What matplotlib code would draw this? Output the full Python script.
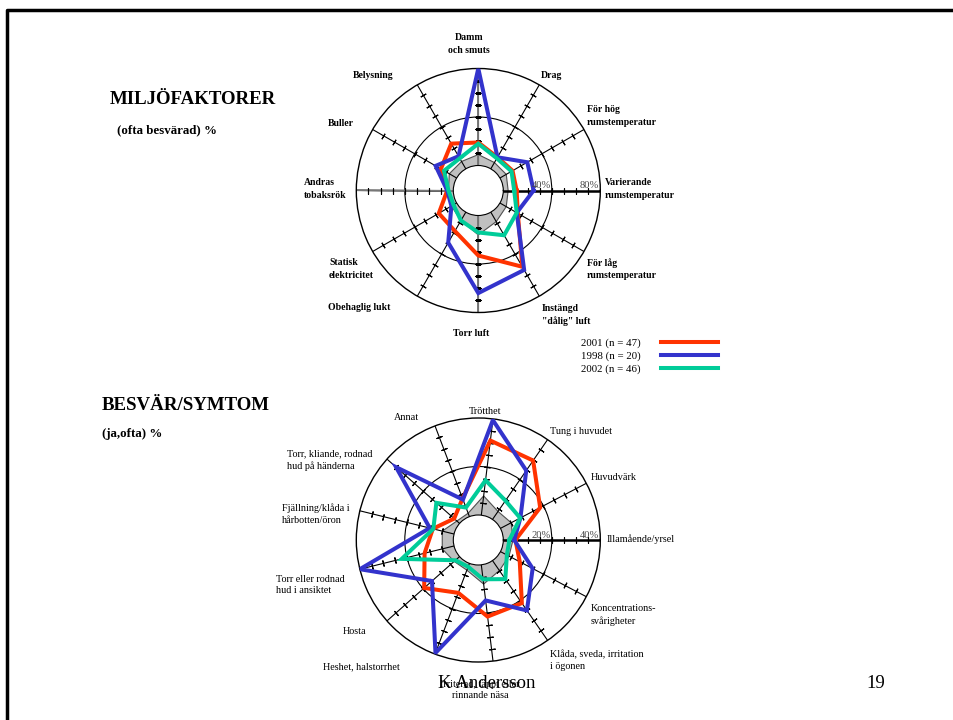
import numpy as np
import matplotlib.pyplot as plt

plt.rcParams['font.family'] = ['Liberation Serif', 'DejaVu Serif']

W, H = 954, 720

# MILJÖFAKTORER, axes counter-clockwise starting at 3 o'clock
env_labels = ['Varierande\nrumstemperatur', 'För hög\nrumstemperatur', 'Drag',
              'Damm\noch smuts', 'Belysning', 'Buller', 'Andras\ntobaksrök',
              'Statisk\nelektricitet', 'Obehaglig lukt', 'Torr luft',
              'Instängd\n"dålig" luft', 'För låg\nrumstemperatur']
env_2001 = [11, 12, 11, 19, 24, 15, 5, 17, 18, 33, 52, 17]
env_1998 = [25, 26, 11, 80, 12, 20, 5, 5, 29, 64, 55, 16]
env_2002 = [9, 11, 10, 18, 10, 12, 4, 3, 8, 14, 22, 16]
env_ref = [4, 6, 6, 9, 7, 7, 4, 5, 8, 16, 9, 6]

# BESVÄR/SYMTOM
sym_labels = ['Illamående/yrsel', 'Huvudvärk', 'Tung i huvudet', 'Trötthet', 'Annat',
              'Torr, kliande, rodnad\nhud på händerna', 'Fjällning/klåda i\nhårbotten/öron',
              'Torr eller rodnad\nhud i ansiktet', 'Hosta', 'Heshet, halstorrhet',
              'Irriterad, täppt eller\nrinnande näsa', 'Klåda, sveda, irritation\ni ögonen',
              'Koncentrations-\nsvårigheter']
sym_2001 = [5, 18.5, 29.5, 31, 8, 3, 9, 12.5, 19.5, 13, 21.5, 21.3, 9]
sym_1998 = [4.5, 9.3, 24.5, 39.5, 7.5, 35, 10.3, 40, 15.2, 39.5, 14.8, 25, 15]
sym_2002 = [2.5, 9.2, 9.4, 14.5, 4, 12.8, 8.8, 22.2, 2.3, 1.5, 6, 9.3, 3]
sym_ref = [4, 5, 4, 8, 1.5, 1.5, 5, 5, 3, 3, 8, 5, 4]

series_names = ['2001 (n = 47)', '1998 (n = 20)', '2002 (n = 46)']
colors = ['#FF3300', '#3333CC', '#00CC99']

# label anchor positions in pixels (x, y, ha)
env_pos = [(605, 189, 'left'), (587, 116, 'left'), (541, 75, 'left'), (469, 44, 'center'),
           (353, 75, 'left'), (328, 123, 'left'), (304, 189, 'left'), (329, 269, 'left'),
           (328, 307, 'left'), (471, 333, 'center'), (542, 315, 'left'), (587, 269, 'left')]
sym_pos = [(607, 539, 'left'), (591, 478, 'left'), (550, 432, 'left'), (485, 411, 'center'),
           (406, 418, 'center'), (287, 460, 'left'), (282, 514, 'left'), (276, 585, 'left'),
           (343, 632, 'left'), (323, 667, 'left'), (480, 690, 'center'), (550, 660, 'left'),
           (591, 615, 'left')]

fig = plt.figure(figsize=(W / 100, H / 100), dpi=100)
bg = fig.add_axes([0, 0, 1, 1])
bg.set_xlim(0, W)
bg.set_ylim(H, 0)
bg.axis('off')


def radar(cx, cy, R, rmax, ticks, scale, values, ref, grey_axes):
    ax = fig.add_axes([(cx - R) / W, 1 - (cy + R) / H, 2 * R / W, 2 * R / H],
                      projection='polar')
    n = len(ref)
    th = np.arange(n) * 2 * np.pi / n
    thc = np.append(th, th[0])
    ax.set_rorigin(-25 * rmax / (R - 25))
    ax.set_ylim(0, rmax)
    ax.set_thetagrids(np.degrees(th), labels=[''] * n)
    ax.set_rgrids([rmax / 2], labels=[''])
    ax.grid(True, color='black', lw=0.8, ls='-')
    ax.spines['polar'].set_linewidth(1.0)
    ax.spines['inner'].set_linewidth(0.8)
    ax.tick_params(length=0)
    ax.patch.set_alpha(0)

    ax.fill(thc, np.append(ref, ref[0]), facecolor='#C0C0C0', edgecolor='#505050',
            lw=0.8, zorder=1)
    if grey_axes:
        for t in [np.pi / 2, np.pi, 3 * np.pi / 2]:
            ax.plot([t, t], [0, rmax], color='#777777', lw=1.4, zorder=1.55)
    for t in th:
        ax.plot(np.full(len(ticks), t), ticks, ls='none',
                marker=(2, 2, np.degrees(t)), ms=4.5, mec='black', mew=0.8, zorder=1.6)
    ax.plot([0, 0], [0, rmax], color='black', lw=1.8, zorder=1.6)

    lines = []
    for v, c in zip(values, colors):
        ln, = ax.plot(thc, np.append(v, v[0]), color=c, lw=2.9, zorder=3,
                      solid_joinstyle='miter')
        lines.append(ln)

    for s in scale:
        ax.text(0, s - rmax * 0.01, f'{s}%', ha='right', va='bottom', fontsize=7.6,
                color='#444444', zorder=4)
    return lines


lines = radar(478.3, 190.5, 122, 80, np.arange(10, 80, 10), [40, 80],
              [env_2001, env_1998, env_2002], env_ref, True)
radar(478.3, 540, 122, 40, np.arange(5, 40, 5), [20, 40],
      [sym_2001, sym_1998, sym_2002], sym_ref, False)

for lab, (x, y, ha) in zip(env_labels, env_pos):
    bg.text(x, y, lab, ha=ha, va='center', fontsize=7, fontweight='bold', linespacing=1.45)
for lab, (x, y, ha) in zip(sym_labels, sym_pos):
    bg.text(x, y, lab, ha=ha, va='center', fontsize=7.3, linespacing=1.4)

bg.text(109.5, 100, 'MILJÖFAKTORER', fontsize=13.6, fontweight='bold', va='center')
bg.text(117.5, 130, '(ofta besvärad) %', fontsize=9.3, fontweight='bold', va='center')
bg.text(102, 405, 'BESVÄR/SYMTOM', fontsize=13.6, fontweight='bold', va='center')
bg.text(102, 434, '(ja,ofta) %', fontsize=9.3, fontweight='bold', va='center')
bg.text(487, 683, 'K Andersson', fontsize=13.5, ha='center', va='center')
bg.text(876, 683, '19', fontsize=13.5, ha='center', va='center')

# slide frame
bg.plot([7, 7, W + 10], [H + 10, 10, 10], color='black', lw=2.5, clip_on=False)

fig.legend(lines, series_names, loc='upper left', bbox_to_anchor=(581 / W, 1 - 338 / H),
           markerfirst=False, frameon=False, fontsize=7.8, handlelength=5.2,
           handletextpad=1.9, labelspacing=0.3, borderpad=0, borderaxespad=0)

fig.savefig('out.png', dpi=100)
